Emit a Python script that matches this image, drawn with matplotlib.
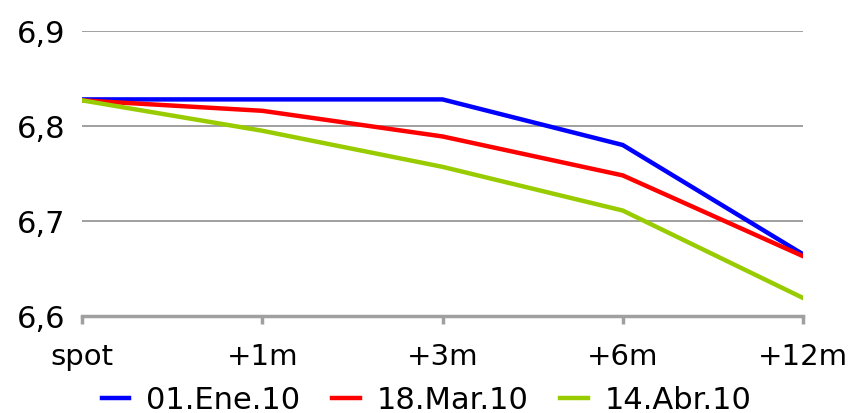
import matplotlib
matplotlib.use("Agg")
import matplotlib.pyplot as plt

categories = ["spot", "+1m", "+3m", "+6m", "+12m"]
series_names = ["01.Ene.10", "18.Mar.10", "14.Abr.10"]
ene = [6.828, 6.828, 6.828, 6.780, 6.665]
mar = [6.827, 6.816, 6.789, 6.748, 6.663]
abr = [6.827, 6.795, 6.757, 6.711, 6.619]
yticks = [6.6, 6.7, 6.8, 6.9]
ytick_labels = ["6,6", "6,7", "6,8", "6,9"]
colors = ["#0000FF", "#FF0000", "#99CC00"]

plt.rcParams['font.family'] = ['DejaVu Sans']
fig = plt.figure(figsize=(8.5, 4.14), dpi=100)
ax = fig.add_axes([82/850, 1-317/414, (803-82)/850, (317-32)/414])

x = list(range(len(categories)))
for vals, name, c in zip([ene, mar, abr], series_names, colors):
    ax.plot(x, vals, color=c, lw=3.2, label=name, solid_joinstyle='miter')

ax.set_xlim(0, len(categories)-1)
ax.set_ylim(6.6, 6.9)
ax.set_yticks(yticks)
ax.set_yticklabels(ytick_labels)
ax.set_xticks(x)
ax.set_xticklabels(categories)
ax.grid(axis='y', color='#A0A0A0', lw=1.4)
ax.set_axisbelow(True)
for s in ['top', 'right', 'left']:
    ax.spines[s].set_visible(False)
ax.spines['bottom'].set_color('#A0A0A0')
ax.spines['bottom'].set_linewidth(2.5)
ax.tick_params(axis='y', length=0, labelsize=22, pad=12, labelcolor='#000000')
ax.tick_params(axis='x', length=6, width=2.5, color='#A0A0A0', labelsize=21, pad=13)

fig.legend(*ax.get_legend_handles_labels(), loc='center', bbox_to_anchor=(0.502, 13/414),
           ncol=3, frameon=False, fontsize=22, handlelength=0.9, handletextpad=0.55,
           columnspacing=1.05, borderaxespad=0, borderpad=0)

fig.savefig("out.png", dpi=100)
